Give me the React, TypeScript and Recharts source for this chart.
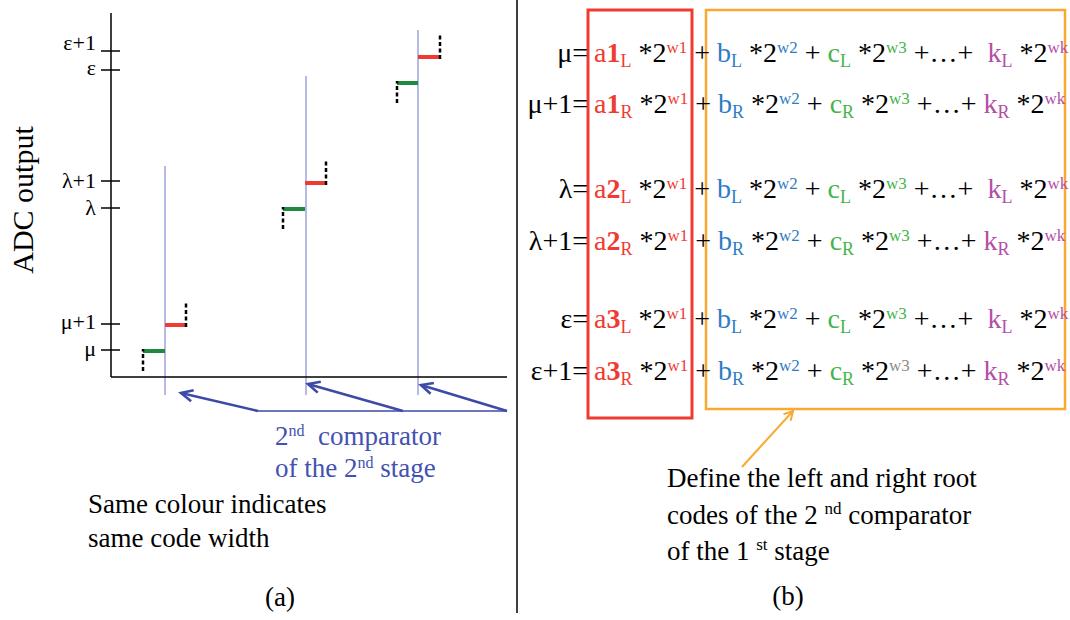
import { ComposedChart, Line, XAxis, YAxis, ReferenceLine, Label } from 'recharts';

const SERIF = "'Liberation Serif', 'Times New Roman', 'DejaVu Serif', serif";

// y axis: code levels (axis units, bottom of plot = 0)
const tickValues = [27, 53, 169, 196, 307, 326];
const tickLabels = ['μ', 'μ+1', 'λ', 'λ+1', 'ε', 'ε+1'];

// three transitions, one per comparator of the 2nd stage (x in input units)
const stepStart = [32, 172, 286];
const stepMid = [54, 194, 307];
const stepEnd = [75, 215, 329];
const lowLevel = [26, 168, 294];
const highLevel = [52, 194, 320];
const lowDashEnd = [6, 148, 274];
const highDashEnd = [74, 216, 342];

// comparator thresholds (thin blue verticals)
const comparatorX = [54, 195, 307];
const comparatorTop = [211, 301, 347];
const comparatorBottom = -18;

// arrows below the x axis pointing at the comparators
const arrowTailX = [147, 292, 396];
const arrowHeadX = [70, 197, 310];
const arrowHeadY = [-16, -7, -8];
const arrowBaseY = -34;

// equations in panel (b)
const rowLabels = ['μ=', 'μ+1=', 'λ=', 'λ+1=', 'ε=', 'ε+1='];
const rowIndex = ['1', '1', '2', '2', '3', '3'];
const rowSide = ['L', 'R', 'L', 'R', 'L', 'R'];

const RED = '#ef3b32';
const GREEN_STEP = '#1f8a3d';
const BLUE = '#2f7cc6';
const GREEN = '#45b448';
const PURPLE = '#b44ea6';
const ORANGE = '#f9a832';
const ARROW = '#3d4aa7';
const THRESH = '#8d96d5';

const seg = (x1: number, y1: number, x2: number, y2: number) => [
  { x: x1, y: y1 },
  { x: x2, y: y2 },
];

function arrowHead(x1: number, y1: number, x2: number, y2: number, len = 13, spread = 0.45) {
  const a = Math.atan2(y1 - y2, x1 - x2);
  const p1 = `${x2 + len * Math.cos(a + spread)},${y2 + len * Math.sin(a + spread)}`;
  const p2 = `${x2 + len * Math.cos(a - spread)},${y2 + len * Math.sin(a - spread)}`;
  return `${p1} ${x2},${y2} ${p2}`;
}

function ArrowShape(props: any) {
  const { x1, y1, x2, y2 } = props;
  return (
    <g>
      <line x1={x1} y1={y1} x2={x2} y2={y2} stroke={ARROW} strokeWidth={2.6} />
      <polyline points={arrowHead(x1, y1, x2, y2)} fill="none" stroke={ARROW} strokeWidth={2.6} />
    </g>
  );
}

function LevelTick(props: any) {
  const { x, y, payload } = props;
  const label = tickLabels[tickValues.indexOf(payload.value)];
  const shift = label === 'μ' ? 6 : label === 'μ+1' ? 5 : label === 'ε+1' ? -1 : label === 'ε' ? 5 : 7;
  return (
    <g>
      <line x1={x - 10} x2={x + 9} y1={y} y2={y} stroke="#000" strokeWidth={1.5} />
      <text
        x={x - 15}
        y={y + shift}
        textAnchor="end"
        fill="#000"
        style={{ fontFamily: SERIF, fontSize: 22 }}
      >
        {label}
      </text>
    </g>
  );
}

function YLabel(props: any) {
  const vb = props.viewBox || { x: 0, y: 13, width: 111, height: 364 };
  const cx = vb.x + 33;
  const cy = vb.y + vb.height / 2 + 5;
  return (
    <text
      x={cx}
      y={cy}
      transform={`rotate(-90 ${cx} ${cy})`}
      textAnchor="middle"
      fill="#000"
      style={{ fontFamily: SERIF, fontSize: 30 }}
    >
      ADC output
    </text>
  );
}

function EquationRow({ i, baseline }: { i: number; baseline: number }) {
  const side = rowSide[i];
  const w3Color = i === 5 ? '#8a8a8a' : GREEN;
  const term = (base: string, color: string, bold?: string) => [
    <tspan key="b" fill={color}>{base}</tspan>,
    bold ? <tspan key="n" fill={color} fontWeight="bold">{bold}</tspan> : null,
    <tspan key="s" fill={color} fontSize={18} dy={5}>{side}</tspan>,
  ];
  const power = (exp: string, color: string) => [
    <tspan key="m" dy={-5}>{' *2'}</tspan>,
    <tspan key="e" fill={color} fontSize={17} dy={-9}>{exp}</tspan>,
  ];
  return (
    <g fill="#000" style={{ fontFamily: SERIF, fontSize: 28 }}>
      <text x={588} y={baseline} textAnchor="end">{rowLabels[i]}</text>
      <text x={594} y={baseline} style={{ whiteSpace: 'pre' }}>
        {term('a', RED, rowIndex[i])}
        {power('w1', RED)}
        <tspan dy={9}>{' + '}</tspan>
        {term('b', BLUE)}
        {power('w2', BLUE)}
        <tspan dy={9}>{' + '}</tspan>
        {term('c', GREEN)}
        {power('w3', w3Color)}
        <tspan dy={9}>{side === 'L' ? ' +…+  ' : ' +…+ '}</tspan>
        {term('k', PURPLE)}
        {power('wk', PURPLE)}
      </text>
    </g>
  );
}

const rowBaselines = [62, 113, 198, 250, 328, 380];

export default function App() {
  return (
    <div style={{ position: 'absolute', left: 0, top: 0, width: 1070, height: 620, background: '#fff', fontFamily: SERIF }}>
      <ComposedChart width={520} height={620} margin={{ top: 13, right: 13, bottom: 0, left: 0 }}>
        <XAxis
          type="number"
          dataKey="x"
          domain={[0, 396]}
          allowDataOverflow
          tick={false}
          tickLine={false}
          axisLine={{ stroke: '#000', strokeWidth: 1.5 }}
          height={243}
        />
        <YAxis
          type="number"
          domain={[0, 364]}
          allowDataOverflow
          ticks={tickValues}
          interval={0}
          tick={(p: any) => <LevelTick {...p} />}
          tickSize={0}
          tickMargin={0}
          tickLine={false}
          axisLine={{ stroke: '#000', strokeWidth: 1.5 }}
          width={111}
        >
          <Label content={(p: any) => <YLabel {...p} />} />
        </YAxis>

        {comparatorX.map((cx, i) => (
          <ReferenceLine
            key={`c${i}`}
            segment={seg(cx, comparatorBottom, cx, comparatorTop[i])}
            stroke={THRESH}
            strokeWidth={1.3}
            ifOverflow="visible"
          />
        ))}

        <ReferenceLine
          segment={seg(arrowTailX[0], arrowBaseY, arrowTailX[2], arrowBaseY)}
          stroke={ARROW}
          strokeWidth={1.5}
          ifOverflow="visible"
        />
        {arrowTailX.map((tx, i) => (
          <ReferenceLine
            key={`a${i}`}
            segment={seg(tx, arrowBaseY, arrowHeadX[i], arrowHeadY[i])}
            ifOverflow="visible"
            shape={(p: any) => <ArrowShape {...p} />}
          />
        ))}

        {stepStart.map((s, i) => (
          <Line
            key={`g${i}`}
            data={seg(s, lowLevel[i], stepMid[i], lowLevel[i])}
            dataKey="y"
            stroke={GREEN_STEP}
            strokeWidth={4}
            dot={false}
            activeDot={false}
            isAnimationActive={false}
          />
        ))}
        {stepMid.map((m, i) => (
          <Line
            key={`r${i}`}
            data={seg(m, highLevel[i], stepEnd[i], highLevel[i])}
            dataKey="y"
            stroke={RED}
            strokeWidth={4}
            dot={false}
            activeDot={false}
            isAnimationActive={false}
          />
        ))}
        {stepStart.map((s, i) => (
          <Line
            key={`dl${i}`}
            data={seg(s, lowDashEnd[i], s, lowLevel[i] + 2)}
            dataKey="y"
            stroke="#000"
            strokeWidth={2.5}
            strokeDasharray="4 2.5"
            dot={false}
            activeDot={false}
            isAnimationActive={false}
          />
        ))}
        {stepEnd.map((e, i) => (
          <Line
            key={`dh${i}`}
            data={seg(e, highLevel[i] - 2, e, highDashEnd[i])}
            dataKey="y"
            stroke="#000"
            strokeWidth={2.5}
            strokeDasharray="4 2.5"
            dot={false}
            activeDot={false}
            isAnimationActive={false}
          />
        ))}
      </ComposedChart>

      <svg
        width={1070}
        height={620}
        style={{ position: 'absolute', left: 0, top: 0, pointerEvents: 'none', fontFamily: SERIF }}
      >
        {/* panel (a) annotations */}
        <text x={275} y={445} fill="#4352b0" style={{ whiteSpace: 'pre', fontFamily: SERIF, fontSize: 27 }}>
          <tspan>2</tspan>
          <tspan fontSize={16} dy={-9}>nd</tspan>
          <tspan dy={9}>{'  comparator'}</tspan>
        </text>
        <text x={275} y={477} fill="#4352b0" style={{ whiteSpace: 'pre', fontFamily: SERIF, fontSize: 27 }}>
          <tspan>{'of the 2'}</tspan>
          <tspan fontSize={16} dy={-9}>nd</tspan>
          <tspan dy={9}>{' stage'}</tspan>
        </text>
        <g fill="#000" style={{ fontFamily: SERIF, fontSize: 27 }}>
          <text x={88} y={513}>Same colour indicates</text>
          <text x={88} y={547}>same code width</text>
          <text x={280} y={606} textAnchor="middle">(a)</text>
        </g>

        <line x1={517} y1={0} x2={517} y2={613} stroke="#000" strokeWidth={1.5} />

        {/* panel (b) */}
        <rect x={588} y={10} width={104} height={408} fill="none" stroke={RED} strokeWidth={3} />
        <rect x={706} y={10} width={359} height={399} fill="none" stroke={ORANGE} strokeWidth={2.5} />
        {rowBaselines.map((b, i) => (
          <EquationRow key={i} i={i} baseline={b} />
        ))}

        <line x1={742} y1={467} x2={793} y2={411} stroke={ORANGE} strokeWidth={2} />
        <polyline points={arrowHead(742, 467, 793, 411, 10, 0.5)} fill="none" stroke={ORANGE} strokeWidth={2} />

        <g fill="#000" style={{ fontFamily: SERIF, fontSize: 27, whiteSpace: 'pre' }}>
          <text x={667} y={487}>Define the left and right root</text>
          <text x={667} y={524}>
            <tspan>{'codes of the 2 '}</tspan>
            <tspan fontSize={17} dy={-10}>nd</tspan>
            <tspan dy={10}>{' comparator'}</tspan>
          </text>
          <text x={667} y={560}>
            <tspan>{'of the 1 '}</tspan>
            <tspan fontSize={17} dy={-10}>st</tspan>
            <tspan dy={10}>{' stage'}</tspan>
          </text>
          <text x={788} y={605} textAnchor="middle">(b)</text>
        </g>
      </svg>
    </div>
  );
}
